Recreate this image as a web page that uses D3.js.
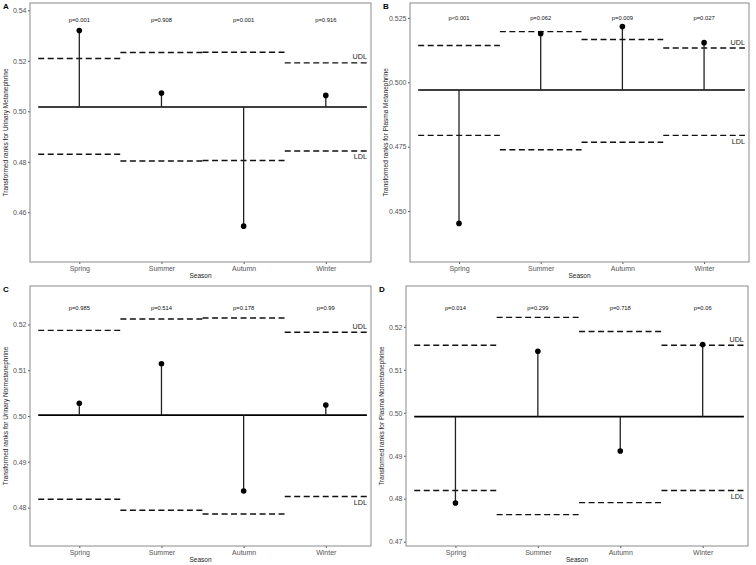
<!DOCTYPE html>
<html>
<head>
<meta charset="utf-8">
<script src="https://cdn.jsdelivr.net/npm/d3@7"></script>
<style>
  body { margin: 0; background: #fff; }
  svg { display: block; font-family: "Liberation Sans", Arial, sans-serif; }
</style>
</head>
<body>
<svg id="chart" width="756" height="565"></svg>
<script>
// categories
var seasons = [ "Spring", "Summer", "Autumn", "Winter" ];

// A: urinary metanephrine
var centerA = 0.5017;
var valuesA = [ 0.532, 0.5072, 0.4545, 0.5063 ];
var udlA = [ 0.5209, 0.5233, 0.5234, 0.5192 ];
var ldlA = [ 0.4830, 0.4803, 0.4805, 0.4843 ];
var pA = [ "p=0.001", "p=0.908", "p=0.001", "p=0.916" ];
var ticksA = [ 0.46, 0.48, 0.50, 0.52, 0.54 ];

// B: plasma metanephrine
var centerB = 0.497;
var valuesB = [ 0.4452, 0.5189, 0.5217, 0.5154 ];
var udlB = [ 0.5143, 0.5197, 0.5166, 0.5133 ];
var ldlB = [ 0.4794, 0.4738, 0.4767, 0.4794 ];
var pB = [ "p<0.001", "p=0.062", "p=0.009", "p=0.027" ];
var ticksB = [ 0.450, 0.475, 0.500, 0.525 ];

// C: urinary normetanephrine
var centerC = 0.5002;
var valuesC = [ 0.5028, 0.5114, 0.4836, 0.5024 ];
var udlC = [ 0.5187, 0.5212, 0.5214, 0.5183 ];
var ldlC = [ 0.4818, 0.4794, 0.4786, 0.4824 ];
var pC = [ "p=0.985", "p=0.514", "p=0.178", "p=0.99" ];
var ticksC = [ 0.48, 0.49, 0.50, 0.51, 0.52 ];

// D: plasma normetanephrine
var centerD = 0.4991;
var valuesD = [ 0.479, 0.5143, 0.4911, 0.5159 ];
var udlD = [ 0.5157, 0.5222, 0.5189, 0.5157 ];
var ldlD = [ 0.4819, 0.4763, 0.4791, 0.4819 ];
var pD = [ "p=0.014", "p=0.299", "p=0.718", "p=0.06" ];
var ticksD = [ 0.47, 0.48, 0.49, 0.50, 0.51, 0.52 ];

var panels = [
    { tag: "A", title: "Transformed ranks for Urinary Metanephrine", center: centerA, values: valuesA, udl: udlA, ldl: ldlA, p: pA, pY: 0.5362, ticks: ticksA, fmt: ".2f", dom: [ 0.4403, 0.5429 ], box: [ 30, 3, 371, 262 ] },
    { tag: "B", title: "Transformed ranks for Plasma Metanephrine", center: centerB, values: valuesB, udl: udlB, ldl: ldlB, p: pB, pY: 0.525, ticks: ticksB, fmt: ".3f", dom: [ 0.4302, 0.5308 ], box: [ 410, 3, 749, 262 ] },
    { tag: "C", title: "Transformed ranks for Urinary Normetanephrine", center: centerC, values: valuesC, udl: udlC, ldl: ldlC, p: pC, pY: 0.5237, ticks: ticksC, fmt: ".2f", dom: [ 0.4716, 0.5284 ], box: [ 30, 286, 371, 546 ] },
    { tag: "D", title: "Transformed ranks for Plasma Normetanephrine", center: centerD, values: valuesD, udl: udlD, ldl: ldlD, p: pD, pY: 0.5245, ticks: ticksD, fmt: ".2f", dom: [ 0.469, 0.5295 ], box: [ 406, 286, 748, 546 ] }
];

var svg = d3.select( "#chart" );

panels.forEach( function( p ) {
    var L = p.box[ 0 ], T = p.box[ 1 ], R = p.box[ 2 ], B = p.box[ 3 ];
    var x = d3.scaleLinear().domain( [ 0.4, 4.55 ] ).range( [ L, R ] );
    var y = d3.scaleLinear().domain( p.dom ).range( [ B, T ] );
    var g = svg.append( "g" );

    // panel tag
    g.append( "text" )
        .attr( "x", L - 27 ).attr( "y", T + 6 )
        .attr( "font-size", 8 ).attr( "font-weight", "bold" )
        .text( p.tag );

    // axes
    var yAxis = g.append( "g" ).attr( "transform", "translate(" + L + ",0)" )
        .call( d3.axisLeft( y ).tickValues( p.ticks ).tickFormat( d3.format( p.fmt ) ).tickSize( 2 ).tickPadding( 1.5 ) );
    var xAxis = g.append( "g" ).attr( "transform", "translate(0," + B + ")" )
        .call( d3.axisBottom( x ).tickValues( [ 1, 2, 3, 4 ] ).tickFormat( function( d ) { return seasons[ d - 1 ]; } ).tickSize( 2 ).tickPadding( 2 ) );
    [ yAxis, xAxis ].forEach( function( a ) {
        a.select( ".domain" ).remove();
        a.selectAll( "line" ).attr( "stroke", "#555" );
        a.selectAll( "text" ).attr( "fill", "#555" ).attr( "font-size", 7 ).attr( "font-family", null );
    } );

    // border
    g.append( "rect" )
        .attr( "x", L ).attr( "y", T ).attr( "width", R - L ).attr( "height", B - T )
        .attr( "fill", "none" ).attr( "stroke", "#8a8a8a" ).attr( "stroke-width", 1 );

    // axis titles
    g.append( "text" )
        .attr( "transform", "translate(" + ( L - 22 ) + "," + ( ( T + B ) / 2 ) + ") rotate(-90)" )
        .attr( "text-anchor", "middle" ).attr( "font-size", 6.5 ).attr( "fill", "#222" )
        .text( p.title );
    g.append( "text" )
        .attr( "x", ( L + R ) / 2 ).attr( "y", B + 16 )
        .attr( "text-anchor", "middle" ).attr( "font-size", 6.5 ).attr( "fill", "#222" )
        .text( "Season" );

    // control limits
    [ p.udl, p.ldl ].forEach( function( arr ) {
        g.selectAll( null ).data( arr ).enter().append( "line" )
            .attr( "x1", function( d, i ) { return x( i + 0.5 ); } )
            .attr( "x2", function( d, i ) { return x( i + 1.5 ); } )
            .attr( "y1", function( d ) { return y( d ); } )
            .attr( "y2", function( d ) { return y( d ); } )
            .attr( "stroke", "#111" ).attr( "stroke-width", 1.4 )
            .attr( "stroke-dasharray", "6,3.5" );
    } );

    // center line
    g.append( "line" )
        .attr( "x1", x( 0.5 ) ).attr( "x2", x( 4.5 ) )
        .attr( "y1", y( p.center ) ).attr( "y2", y( p.center ) )
        .attr( "stroke", "#000" ).attr( "stroke-width", 1.6 );

    // stems and points
    g.selectAll( null ).data( p.values ).enter().append( "line" )
        .attr( "x1", function( d, i ) { return x( i + 1 ); } )
        .attr( "x2", function( d, i ) { return x( i + 1 ); } )
        .attr( "y1", y( p.center ) )
        .attr( "y2", function( d ) { return y( d ); } )
        .attr( "stroke", "#222" ).attr( "stroke-width", 1.3 );
    g.selectAll( null ).data( p.values ).enter().append( "circle" )
        .attr( "cx", function( d, i ) { return x( i + 1 ); } )
        .attr( "cy", function( d ) { return y( d ); } )
        .attr( "r", 2.8 ).attr( "fill", "#000" );

    // p values
    g.selectAll( null ).data( p.p ).enter().append( "text" )
        .attr( "x", function( d, i ) { return x( i + 1 ); } )
        .attr( "y", y( p.pY ) )
        .attr( "dy", "0.35em" )
        .attr( "text-anchor", "middle" ).attr( "font-size", 5.8 ).attr( "fill", "#111" )
        .text( function( d ) { return d; } );

    // UDL / LDL labels
    g.append( "text" )
        .attr( "x", x( 4.5 ) ).attr( "y", y( p.udl[ 3 ] ) - 6 ).attr( "dy", "0.35em" )
        .attr( "text-anchor", "end" ).attr( "font-size", 7.2 ).attr( "fill", "#222" )
        .text( "UDL" );
    g.append( "text" )
        .attr( "x", x( 4.5 ) ).attr( "y", y( p.ldl[ 3 ] ) + 6 ).attr( "dy", "0.35em" )
        .attr( "text-anchor", "end" ).attr( "font-size", 7.2 ).attr( "fill", "#222" )
        .text( "LDL" );
} );
</script>
</body>
</html>
